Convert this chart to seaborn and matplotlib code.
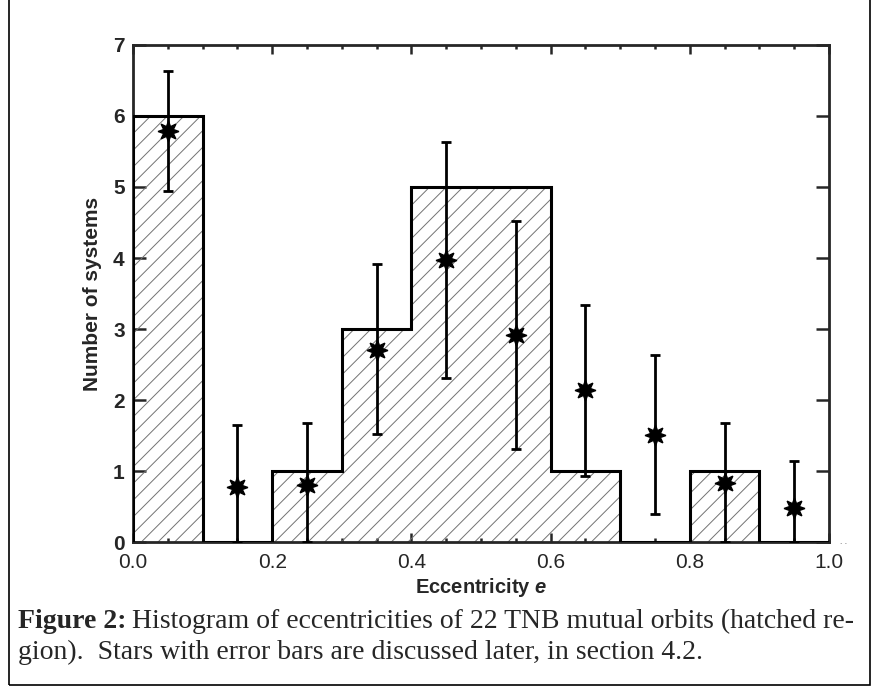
import numpy as np
import matplotlib
matplotlib.use("Agg")
import matplotlib.pyplot as plt
import seaborn as sns
from matplotlib.patches import Rectangle
from matplotlib.ticker import MultipleLocator

# histogram of eccentricities (22 systems)
bin_edges = [0.0, 0.1, 0.2, 0.3, 0.4, 0.5, 0.6, 0.7, 0.8, 0.9, 1.0]
bin_counts = [6, 0, 1, 3, 5, 5, 1, 0, 1, 0]

# stars with error bars
star_e = [0.05, 0.15, 0.25, 0.35, 0.45, 0.55, 0.65, 0.75, 0.85, 0.95]
star_n = [5.79, 0.78, 0.80, 2.71, 3.97, 2.92, 2.14, 1.51, 0.83, 0.48]
star_lo = [4.94, 0.0, 0.0, 1.52, 2.31, 1.31, 0.93, 0.40, 0.0, 0.0]
star_hi = [6.64, 1.65, 1.67, 3.92, 5.64, 4.52, 3.34, 2.63, 1.68, 1.14]

x_ticks = [0.0, 0.2, 0.4, 0.6, 0.8, 1.0]
x_ticklabels = ["0.0", "0.2", "0.4", "0.6", "0.8", "1.0"]
y_ticks = [0, 1, 2, 3, 4, 5, 6, 7]

caption_1 = "Histogram of eccentricities of 22 TNB mutual orbits (hatched re-"
caption_2 = "gion).  Stars with error bars are discussed later, in section 4.2."


def main():
    sns.set_style("ticks")
    plt.rcParams["font.family"] = ["Liberation Sans", "DejaVu Sans"]
    plt.rcParams["mathtext.fontset"] = "custom"
    plt.rcParams["mathtext.it"] = "Liberation Sans:bold:italic"
    plt.rcParams["hatch.linewidth"] = 0.7

    fig = plt.figure(figsize=(8.78, 6.88), dpi=100)
    ax = fig.add_axes([0.1515, 0.2122, 0.7927, 0.7224])

    centers = [(a + b) / 2 for a, b in zip(bin_edges[:-1], bin_edges[1:])]
    sns.histplot(x=centers, weights=bin_counts, bins=bin_edges, ax=ax,
                 element="bars", fill=True, facecolor="none",
                 edgecolor="0.45", linewidth=0, hatch="//", alpha=1)
    ax.stairs(bin_counts, bin_edges, baseline=0, fill=False,
              color="black", linewidth=2.2, zorder=3)

    n = np.array(star_n)
    yerr = [n - np.array(star_lo), np.array(star_hi) - n]
    ax.errorbar(star_e, star_n, yerr=yerr, fmt="none", ecolor="black",
                elinewidth=2.0, capsize=3.3, capthick=2.0, zorder=4)
    ax.plot(star_e, star_n, linestyle="none", marker=(8, 1, 0),
            markersize=15, color="black", zorder=5)

    ax.set_xlim(0, 1.0)
    ax.set_ylim(0, 7)
    ax.set_xticks(x_ticks)
    ax.set_xticklabels(x_ticklabels, fontsize=15)
    ax.xaxis.set_minor_locator(MultipleLocator(0.05))
    ax.set_yticks(y_ticks)
    ax.set_yticklabels([str(v) for v in y_ticks], fontweight="bold", fontsize=15)

    ax.tick_params(axis="x", which="major", direction="in", top=True,
                   length=6.5, width=1.8, pad=8)
    ax.tick_params(axis="x", which="minor", direction="in", top=True,
                   length=3, width=1.8)
    ax.tick_params(axis="y", which="major", direction="in", right=True,
                   length=9.5, width=1.8, pad=6)
    for sp in ax.spines.values():
        sp.set_linewidth(2.0)
        sp.set_visible(True)

    ax.set_xlabel("Eccentricity $e$", fontsize=14.5, fontweight="bold", labelpad=3)
    ax.set_ylabel("Number of systems", fontsize=15, fontweight="bold", labelpad=8)

    fig.text(0.957, 0.209, ". .", fontsize=6, color="0.3", ha="left")

    # caption below the plot
    cap_font = ["Liberation Serif", "DejaVu Serif"]
    fig_lab = fig.text(18 / 878, 1 - 628 / 688, "Figure 2:", fontsize=20,
                       fontweight="bold", family=cap_font, va="baseline")
    fig.canvas.draw()
    r = fig.canvas.get_renderer()
    fx = fig_lab.get_window_extent(r).x1 / fig.bbox.width
    fig.text(fx + 5 / 878, 1 - 628 / 688, caption_1, fontsize=20,
             family=cap_font, va="baseline")
    fig.text(18 / 878, 1 - 659 / 688, caption_2, fontsize=20,
             family=cap_font, va="baseline")

    fig.add_artist(Rectangle((9 / 878, 3 / 688), 861 / 878, 1.2,
                             transform=fig.transFigure, fill=False,
                             edgecolor="black", linewidth=1.2))

    fig.savefig("out.png", dpi=100)


if __name__ == "__main__":
    main()
